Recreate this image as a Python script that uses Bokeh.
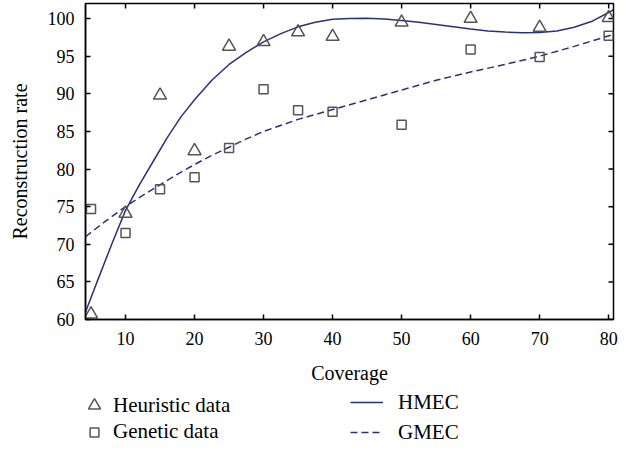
from bokeh.plotting import figure
from bokeh.models import (FixedTicker, Range1d, Legend, LegendItem,
                          ColumnDataSource)
from bokeh.layouts import column
from bokeh.embed import file_html
from bokeh.resources import INLINE

# ---- data ----
coverage = [5, 10, 15, 20, 25, 30, 35, 40, 50, 60, 70, 80]
heuristic = [60.7, 74.1, 89.8, 82.4, 96.3, 96.9, 98.2, 97.6, 99.5, 100.0, 98.8, 100.1]
genetic = [74.7, 71.5, 77.3, 78.9, 82.8, 90.6, 87.8, 87.6, 85.9, 95.9, 94.9, 97.7]

# HMEC fitted curve
hmec_x = [4.2, 6, 8, 10, 12, 14, 16, 18, 20, 22.5, 25, 27.5, 30, 32.5, 35,
          37.5, 40, 42.5, 45, 47.5, 50, 52.5, 55, 57.5, 60, 62.5, 65, 67.5,
          70, 72.5, 75, 77.5, 80, 80.7]
hmec_y = [61.0, 65.3, 70.0, 74.5, 77.9, 81.0, 84.1, 86.9, 89.2, 91.8, 93.9,
          95.5, 96.9, 98.0, 98.9, 99.5, 99.9, 100.0, 100.05, 99.95, 99.75,
          99.5, 99.2, 98.9, 98.6, 98.35, 98.2, 98.1, 98.15, 98.35, 98.85,
          99.6, 100.8, 101.2]

# GMEC fitted curve
gmec_x = [4.2, 7, 10, 12.5, 15, 17.5, 20, 22.5, 25, 27.5, 30, 35, 40, 45, 50,
          55, 60, 65, 70, 75, 80.7]
gmec_y = [71.0, 73.0, 75.0, 76.5, 77.9, 79.3, 80.6, 81.8, 82.9, 84.0, 85.0,
          86.6, 87.9, 89.2, 90.5, 91.8, 92.9, 93.9, 95.0, 96.3, 97.9]

x_ticks = [10, 20, 30, 40, 50, 60, 70, 80]
y_ticks = [60, 65, 70, 75, 80, 85, 90, 95, 100]
x_lo, x_hi = 4.2, 80.7
y_lo, y_hi = 60, 102

FONT = "Liberation Serif"
CURVE = "#27327a"
MARK = "#555555"

p = figure(frame_width=528, frame_height=316,
           x_range=Range1d(x_lo, x_hi), y_range=Range1d(y_lo, y_hi),
           output_backend="svg", toolbar_location=None,
           min_border_left=85, min_border_right=7, min_border_top=3,
           min_border_bottom=70)
p.xgrid.visible = False
p.ygrid.visible = False
p.outline_line_color = "black"
p.outline_line_width = 1.5
p.background_fill_color = "white"
p.border_fill_color = "white"


def style_axis(ax, ticks):
    ax.ticker = FixedTicker(ticks=ticks)
    ax.major_tick_in = 5
    ax.major_tick_out = 0
    ax.minor_tick_in = 0
    ax.minor_tick_out = 0
    ax.axis_line_width = 1.5
    ax.axis_line_color = "black"
    ax.major_tick_line_width = 1.5
    ax.major_tick_line_color = "black"
    ax.major_label_text_font = FONT
    ax.major_label_text_font_size = "18px"
    ax.major_label_text_color = "black"
    ax.axis_label_text_font = FONT
    ax.axis_label_text_font_size = "20px"
    ax.axis_label_text_font_style = "normal"
    ax.axis_label_text_color = "black"


xa = p.xaxis[0]
style_axis(xa, x_ticks)
xa.axis_label = "Coverage"
xa.major_label_standoff = 12
xa.axis_label_standoff = 14

ya = p.yaxis[0]
style_axis(ya, y_ticks)
ya.axis_label = "Reconstruction rate"
ya.major_label_standoff = 11
ya.axis_label_standoff = 14

# mirrored inward ticks on the top and right edges
p.ray(x=x_ticks, y=[y_hi] * len(x_ticks), length=5, length_units="screen",
      angle=-90, angle_units="deg", line_color="black", line_width=1.5)
p.ray(x=[x_hi] * len(y_ticks), y=y_ticks, length=5, length_units="screen",
      angle=180, angle_units="deg", line_color="black", line_width=1.5)

src = ColumnDataSource(dict(x=coverage, h=heuristic, g=genetic))

p.line(hmec_x, hmec_y, line_color=CURVE, line_width=1.5)
p.line(gmec_x, gmec_y, line_color=CURVE, line_width=1.5, line_dash="7 4")
p.scatter("x", "h", source=src, marker="triangle", size=13,
          fill_color=None, line_color=MARK, line_width=1.5)
p.scatter("x", "g", source=src, marker="square", size=9,
          fill_color=None, line_color=MARK, line_width=1.5)

# ---- legend strip below the chart (its renderers fall outside its view) ----
p2 = figure(width=620, height=60, x_range=Range1d(0, 1), y_range=Range1d(0, 1),
            output_backend="svg", toolbar_location=None,
            x_axis_location=None, y_axis_location=None, min_border=0)
p2.outline_line_color = None
p2.grid.visible = False
p2.border_fill_color = "white"

kh = p2.scatter("x", "h", source=src, marker="triangle", fill_color=None,
                line_color=MARK, line_width=1.5)
kg = p2.scatter("x", "g", source=src, marker="square", fill_color=None,
                line_color=MARK, line_width=1.5)
k1 = p2.line(hmec_x, hmec_y, line_color=CURVE, line_width=1.5)
k2 = p2.line(gmec_x, gmec_y, line_color=CURVE, line_width=1.5, line_dash="7 4")

common = dict(label_text_font=FONT, label_text_font_size="21px",
              label_text_color="black", padding=0, margin=0,
              border_line_color=None, background_fill_alpha=0,
              label_height=21)

legH = Legend(items=[LegendItem(label="Heuristic data", renderers=[kh])],
              location=(-6, 29), glyph_width=30, glyph_height=30,
              label_standoff=4, **common)
legG = Legend(items=[LegendItem(label="Genetic data", renderers=[kg])],
              location=(-2, 5), glyph_width=22, glyph_height=22,
              label_standoff=8, **common)
leg2 = Legend(items=[LegendItem(label="HMEC", renderers=[k1]),
                     LegendItem(label="GMEC", renderers=[k2])],
              location=(265, 2), glyph_width=33, glyph_height=30,
              spacing=-3, label_standoff=15, **common)
p2.add_layout(legH, "center")
p2.add_layout(legG, "center")
p2.add_layout(leg2, "center")

layout = column(p, p2, spacing=0)
open("out.html", "w").write(file_html(layout, INLINE))
